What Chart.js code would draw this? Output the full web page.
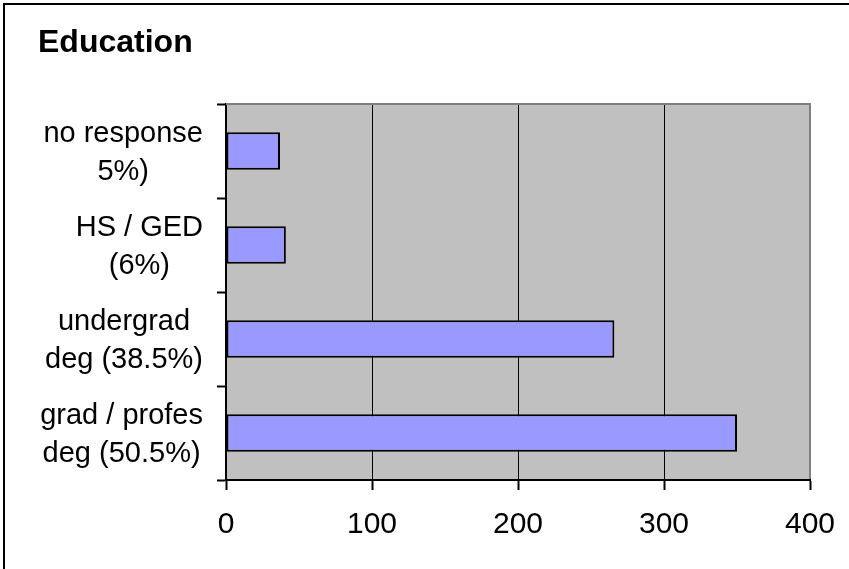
<!DOCTYPE html>
<html>
<head>
<meta charset="utf-8">
<script src="https://cdn.jsdelivr.net/npm/chart.js@4.4.1/dist/chart.umd.min.js"></script>
<style>
  html, body { margin: 0; padding: 0; background: #ffffff; }
  #wrap { width: 849px; height: 569px; position: relative; }
</style>
</head>
<body>
<div id="wrap"><canvas id="chart" width="849" height="569"></canvas></div>
<script>
// Survey respondents by education level
const chartTitle = 'Education';
const categories = [
  ['no response', '5%)'],
  ['HS / GED', '(6%)'],
  ['undergrad', 'deg (38.5%)'],
  ['grad / profes', 'deg (50.5%)']
];
const respondents = [37, 41, 266, 350];
const axisTicks = [0, 100, 200, 300, 400];

const FONT = '"Liberation Sans", Arial, Helvetica, sans-serif';

// Grey plot area behind the bars
const plotBackground = {
  id: 'plotBackground',
  beforeDraw(chart) {
    const { ctx, chartArea: a } = chart;
    ctx.save();
    ctx.fillStyle = '#C0C0C0';
    ctx.fillRect(a.left, a.top, a.right - a.left, a.bottom - a.top);
    ctx.restore();
  }
};

// Category names: each block right-aligned, its lines centred inside it
const categoryLabels = {
  id: 'categoryLabels',
  afterDraw(chart) {
    const { ctx } = chart;
    const y = chart.scales.y;
    const lineH = 38;
    const rightEdge = 203;
    ctx.save();
    ctx.font = '29px ' + FONT;
    ctx.fillStyle = '#000';
    ctx.textBaseline = 'alphabetic';
    ctx.textAlign = 'center';
    categories.forEach((lines, i) => {
      const cy = y.getPixelForValue(i);
      const blockW = Math.max(...lines.map(l => ctx.measureText(l).width));
      const cx = rightEdge - blockW / 2;
      lines.forEach((line, k) => {
        const ly = cy + (k - (lines.length - 1) / 2) * lineH + 10;
        ctx.fillText(line, cx, ly);
      });
    });
    ctx.restore();
  }
};

// Plot-area outline, outer frame and heading
const frame = {
  id: 'frame',
  afterDraw(chart) {
    const { ctx, chartArea: a } = chart;
    ctx.save();
    ctx.fillStyle = '#808080';
    ctx.fillRect(a.left, a.top - 1, a.right - a.left + 1, 2);
    ctx.fillRect(a.right - 1, a.top - 1, 2, a.bottom - a.top);
    ctx.fillStyle = '#000';
    ctx.fillRect(3, 3, chart.width - 3, 2);
    ctx.fillRect(3, 3, 2, chart.height - 3);
    ctx.font = 'bold 32px ' + FONT;
    ctx.textBaseline = 'alphabetic';
    ctx.textAlign = 'left';
    ctx.fillText(chartTitle, 38, 52);
    ctx.restore();
  }
};

new Chart(document.getElementById('chart'), {
  type: 'bar',
  data: {
    labels: categories,
    datasets: [{
      data: respondents,
      backgroundColor: '#9999FF',
      borderColor: '#000000',
      borderWidth: 2,
      borderSkipped: false,
      barPercentage: 0.4,
      categoryPercentage: 1.0
    }]
  },
  options: {
    indexAxis: 'y',
    responsive: false,
    animation: false,
    devicePixelRatio: 1,
    layout: { padding: { left: 4, top: 104, right: 39, bottom: 29 } },
    plugins: {
      legend: { display: false },
      title: { display: false },
      tooltip: { enabled: false }
    },
    scales: {
      x: {
        type: 'linear',
        min: axisTicks[0],
        max: axisTicks[axisTicks.length - 1],
        afterBuildTicks(scale) { scale.ticks = axisTicks.map(v => ({ value: v })); },
        afterFit(scale) {
          scale.height = 60;
          scale.paddingLeft = 0;
          scale.paddingRight = 0;
        },
        ticks: {
          font: { family: FONT, size: 30 },
          color: '#000',
          padding: 17
        },
        grid: {
          color: '#000',
          lineWidth: 1,
          drawTicks: true,
          tickLength: 10,
          tickWidth: 2,
          tickColor: '#000'
        },
        border: { color: '#000', width: 2 }
      },
      y: {
        type: 'category',
        afterFit(scale) { scale.width = 222; },
        ticks: { display: false },
        grid: {
          offset: true,
          drawOnChartArea: false,
          drawTicks: true,
          tickLength: 9,
          tickWidth: 2,
          tickColor: '#000'
        },
        border: { color: '#000', width: 2 }
      }
    }
  },
  plugins: [plotBackground, categoryLabels, frame]
});
</script>
</body>
</html>
